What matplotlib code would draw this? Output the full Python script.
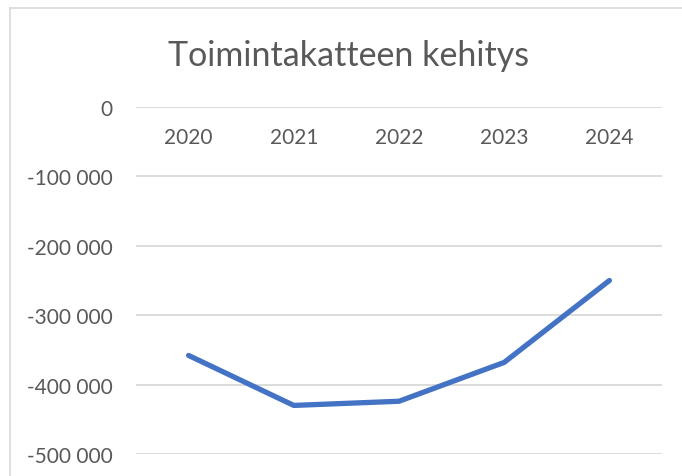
import matplotlib.pyplot as plt
from matplotlib.lines import Line2D
from matplotlib.ticker import FuncFormatter

years = ['2020', '2021', '2022', '2023', '2024']
toimintakate = [-358000, -430000, -424000, -368000, -250000]
y_ticks = [0, -100000, -200000, -300000, -400000, -500000]

plt.rcParams['font.family'] = ['Lato', 'DejaVu Sans']


def fmt(v, pos):
    s = f"{abs(int(v)):,}".replace(",", " ")
    return ("-" + s) if v < 0 else s


fig = plt.figure(figsize=(6.82, 4.77), dpi=100)
ax = fig.add_axes([136 / 682, 22 / 477, 526 / 682, 347 / 477])

x = range(len(years))
ax.plot(x, toimintakate, color='#4472C4', linewidth=3.8, solid_capstyle='round',
        solid_joinstyle='round', zorder=3)

ax.set_xlim(-0.5, len(years) - 0.5)
ax.set_ylim(-500000, 0)
ax.set_yticks(y_ticks)
ax.yaxis.set_major_formatter(FuncFormatter(fmt))
ax.tick_params(axis='y', length=0, pad=17, labelsize=15, labelcolor='#595959')
ax.set_xticks([])
ax.grid(axis='y', color='#D9D9D9', linewidth=1.3)
ax.set_axisbelow(True)
for s in ax.spines.values():
    s.set_visible(False)

# category labels sit just under the zero line
for i, yr in enumerate(years):
    ax.text(i, 1 - 30 / 347, yr, transform=ax.get_xaxis_transform(), ha='center',
            va='center', fontsize=15, color='#595959')

fig.text(349 / 682, 1 - 56 / 477, 'Toimintakatteen kehitys', ha='center', va='center',
         fontsize=24.5, color='#595959')

# chart border (cropped)
fig.add_artist(Line2D([10 / 682, 1], [1 - 9 / 477, 1 - 9 / 477], color='#D9D9D9', linewidth=1.2))
fig.add_artist(Line2D([10 / 682, 10 / 682], [0, 1 - 9 / 477], color='#D9D9D9', linewidth=1.2))

fig.savefig('out.png', dpi=100)
